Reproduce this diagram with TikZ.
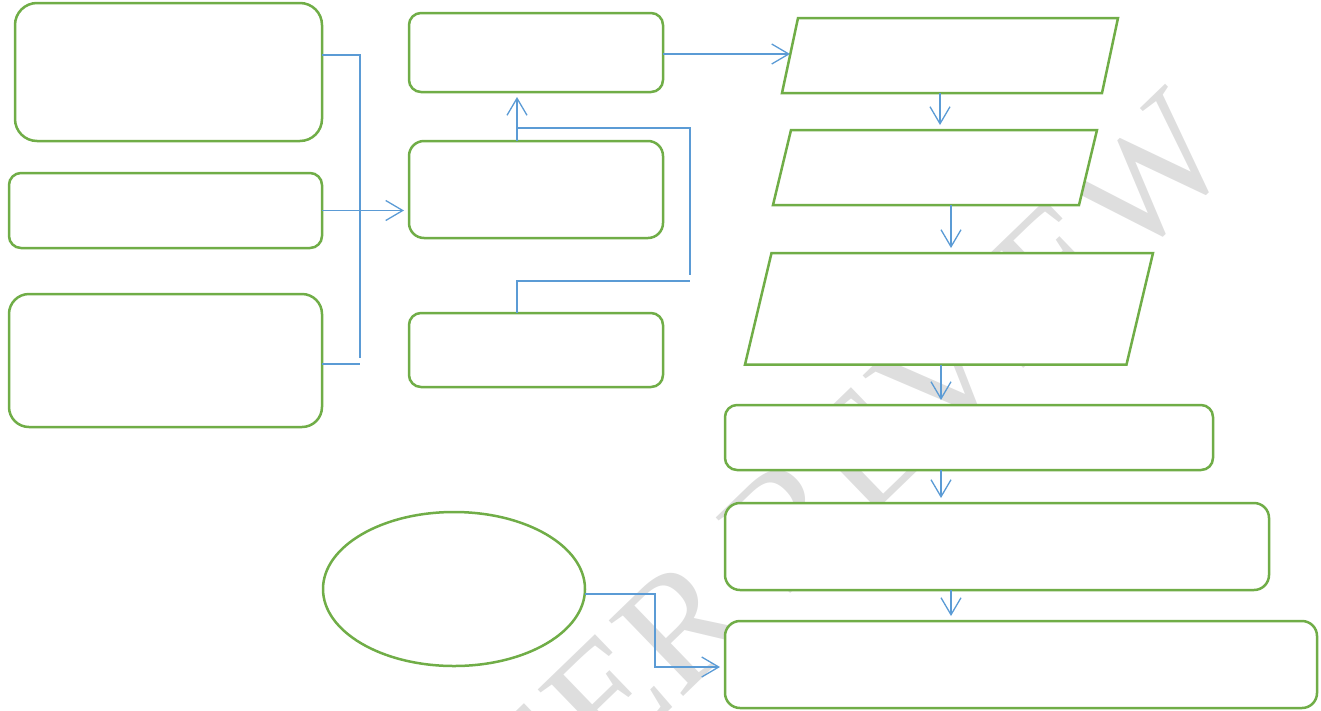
\documentclass[tikz,border=0pt]{standalone}
\usepackage{fontspec}
\newfontfamily\wmfont{Liberation Serif}
\usetikzlibrary{arrows.meta,shapes.geometric,calc}
\definecolor{boxgreen}{RGB}{112,173,71}
\definecolor{lineblue}{RGB}{91,155,213}
\tikzset{
  box/.style={draw=boxgreen, line width=2.5pt, fill=white, inner sep=0pt, outer sep=0pt},
  rbox/.style={box, rounded corners=#1},
  paraframe/.style={inner sep=0pt, outer sep=0pt, draw=none},
  paraline/.style={draw=boxgreen, line width=2.5pt, fill=white, line join=miter},
  conn/.style={draw=lineblue, line width=1.3pt},
  arr/.style={conn, -{Straight Barb[length=17pt, width=20pt]}, shorten >=5pt},
  wmstyle/.style={text=black!13, inner sep=0pt, font=\wmfont\fontsize{162}{162}\selectfont}
}
\begin{document}
\begin{tikzpicture}[x=1pt, y=-1pt]
\useasboundingbox (0,0) rectangle (1321,710);
\clip (0,0) rectangle (1321,710);
% watermark
\node[wmstyle, rotate=44, anchor=base east] (wm) at (1240,160) {FOR PEER REVIEW};
% left column
\node[rbox=22pt, minimum width=307pt, minimum height=138pt] (A) at (168.5,72) {};
\node[rbox=12pt, minimum width=313pt, minimum height=75pt] (B) at (165.5,210.5) {};
\node[rbox=20pt, minimum width=313pt, minimum height=133pt] (C) at (165.5,360.5) {};
% middle column
\node[rbox=12pt, minimum width=254pt, minimum height=79pt] (E) at (536,52.5) {};
\node[rbox=15pt, minimum width=254pt, minimum height=97pt] (D) at (536,189.5) {};
\node[rbox=12pt, minimum width=254pt, minimum height=74pt] (F) at (536,350) {};
% right column: parallelograms (frame nodes + outline)
\node[paraframe, minimum width=336pt, minimum height=75pt] (P1) at (950,55.5) {};
\draw[paraline] ([xshift=16pt]P1.north west) -- (P1.north east) -- ([xshift=-16pt]P1.south east) -- (P1.south west) -- cycle;
\node[paraframe, minimum width=324pt, minimum height=75pt] (P2) at (935,167.5) {};
\draw[paraline] ([xshift=18pt]P2.north west) -- (P2.north east) -- ([xshift=-18pt]P2.south east) -- (P2.south west) -- cycle;
\node[paraframe, minimum width=408pt, minimum height=111.5pt] (P3) at (949,308.75) {};
\draw[paraline] ([xshift=26.5pt]P3.north west) -- (P3.north east) -- ([xshift=-26.5pt]P3.south east) -- (P3.south west) -- cycle;
\node[rbox=12pt, minimum width=488pt, minimum height=65pt] (R1) at (969,437.5) {};
\node[rbox=15pt, minimum width=544pt, minimum height=87pt] (R2) at (997,546.5) {};
\node[rbox=15pt, minimum width=592pt, minimum height=87pt] (R3) at (1021,664.5) {};
\node[box, ellipse, minimum width=262pt, minimum height=154pt] (O) at (454,589) {};
% connectors: left bracket
\draw[conn] ([yshift=17pt]A.east) -- ++(38,0) -- ++(0,303);
\draw[conn] ([yshift=-3.5pt]C.east) -- ++(38,0);
\draw[arr] (B.east) -- (B.east -| D.west);
% middle
\draw[arr] ([xshift=-19pt]D.north) -- ([xshift=-19pt]E.south);
\draw[conn] ([xshift=-19pt,yshift=13pt]D.north) -- ++(173,0) -- ++(0,147);
\draw[conn] ([xshift=-19pt]F.north) -- ++(0,-32) -- ++(173,0);
\draw[arr, shorten >=0pt] ([yshift=-1.5pt]E.east) -- ([yshift=-1.5pt,xshift=8pt]E.east -| P1.west);
% right column
\draw[arr] ([xshift=-10pt]P1.south) -- ([xshift=5pt]P2.north);
\draw[arr] ([xshift=16pt]P2.south) -- ([xshift=2pt]P3.north);
\draw[arr] ([xshift=-8pt]P3.south) -- ([xshift=-28pt]R1.north);
\draw[arr] ([xshift=-28pt]R1.south) -- ([xshift=-56pt]R2.north);
\draw[arr] ([xshift=-46pt]R2.south) -- ([xshift=-70pt]R3.north);
% ellipse
\coordinate (bend) at (655,667);
\draw[arr] ([yshift=-5pt]O.east) -| (bend) -- (bend -| R3.west);
\end{tikzpicture}
\end{document}
